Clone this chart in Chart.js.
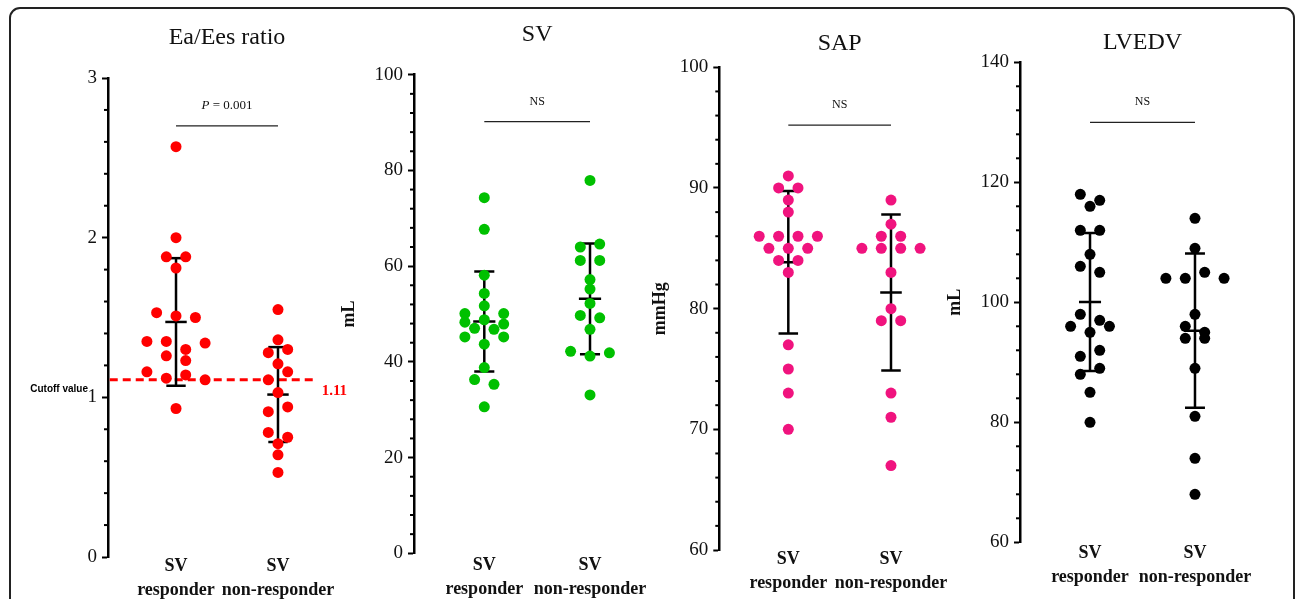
<!DOCTYPE html>
<html>
<head>
<meta charset="utf-8">
<title>SV responders vs non-responders</title>
<script src="https://cdn.jsdelivr.net/npm/chart.js@4.4.1/dist/chart.umd.min.js"></script>
<style>
    html, body { margin: 0; padding: 0; background: #fff; }
    body { position: relative; width: 1296px; height: 599px; overflow: hidden; }
    .frame {
        position: absolute; left: 9px; top: 7px; width: 1286px; height: 700px;
        border: 2px solid #222; border-radius: 11px; box-sizing: border-box;
    }
    canvas { position: absolute; top: 0; }
</style>
</head>
<body>
<div class="frame"></div>
<div id="panels"></div>

<script>
// x axis groups
const groupLabels = [['SV', 'responder'], ['SV', 'non-responder']];
const panelTitles = ['Ea/Ees ratio', 'SV', 'SAP', 'LVEDV'];
const unitLabels = ['', 'mL', 'mmHg', 'mL'];
const compareLabels = ['P = 0.001', 'NS', 'NS', 'NS'];
const compareLevels = [2.7, 90.2, 95.2, 130];

// y axes: min, max, labelled step, minor step
const eaAxis = [0, 3, 1, 0.2];
const svAxis = [0, 100, 20, 4];
const sapAxis = [60, 100, 10, 2];
const lvedvAxis = [60, 140, 20, 4];

const cutoffValue = 1.11;
const cutoffLabel = 'Cutoff value';

// individual patients
const eaResponder = [2.57, 2.00, 1.88, 1.88, 1.81, 1.51, 1.53, 1.50, 1.35, 1.30, 1.35, 1.34, 1.26, 1.23, 1.12, 1.14, 1.16, 1.11, 0.93];
const eaNonResponder = [1.55, 1.36, 1.28, 1.30, 1.21, 1.11, 1.16, 1.03, 0.91, 0.94, 0.78, 0.75, 0.71, 0.64, 0.53];
const svResponder = [74.3, 67.7, 58.1, 54.3, 51.7, 50.1, 50.1, 48.8, 48.3, 47.9, 47.0, 46.8, 43.7, 45.2, 45.2, 38.8, 36.3, 35.3, 30.6];
const svNonResponder = [77.9, 64.0, 64.6, 61.2, 61.2, 57.2, 55.2, 52.2, 49.7, 49.2, 46.8, 41.2, 42.2, 41.9, 33.1];
const sapResponder = [91, 90, 90, 89, 88, 86, 86, 86, 86, 85, 85, 85, 84, 84, 83, 77, 75, 73, 70];
const sapNonResponder = [89, 87, 86, 86, 85, 85, 85, 85, 83, 80, 79, 79, 73, 71, 67];
const lvedvResponder = [118, 117, 116, 112, 112, 108, 106, 105, 98, 97, 95, 96, 96, 91, 92, 88, 89, 85, 80];
const lvedvNonResponder = [114, 109, 104, 105, 104, 104, 98, 96, 95, 94, 94, 89, 81, 74, 68];

const SERIF = '"Liberation Serif", "Times New Roman", serif';
const CANVAS_H = 599;
const DOT_STEP = 9.7;   // half the gap between dots sharing a row (px)
const ROW_GAP = 8.3;    // dots closer than this vertically share a row (px)

const panels = [
    { title: panelTitles[0], unit: unitLabels[0], axis: eaAxis, groups: [eaResponder, eaNonResponder],
      color: '#ff0000', compare: compareLabels[0], level: compareLevels[0], cutoff: cutoffValue,
      left: 10, width: 350, yWidth: 98, padRight: 14, xMin: -0.667, xMax: 1.667,
      titlePad: { top: 23.6, bottom: 25.6 }, xHeight: 42, labelPad: -3, unitPad: 0 },
    { title: panelTitles[1], unit: unitLabels[1], axis: svAxis, groups: [svResponder, svNonResponder],
      color: '#00c000', compare: compareLabels[1], level: compareLevels[1],
      left: 330, width: 340, yWidth: 84, padRight: 9.7, xMin: -0.665, xMax: 1.665,
      titlePad: { top: 20.1, bottom: 25.8 }, xHeight: 45.7, labelPad: 0.5, unitPad: 8.2 },
    { title: panelTitles[2], unit: unitLabels[2], axis: sapAxis, groups: [sapResponder, sapNonResponder],
      color: '#f0137e', compare: compareLabels[2], level: compareLevels[2],
      left: 640, width: 330, yWidth: 79.3, padRight: 10, xMin: -0.672, xMax: 1.672,
      titlePad: { top: 29.6, bottom: 8.9 }, xHeight: 49, labelPad: -3, unitPad: 9.2 },
    { title: panelTitles[3], unit: unitLabels[3], axis: lvedvAxis, groups: [lvedvResponder, lvedvNonResponder],
      color: '#000000', compare: compareLabels[3], level: compareLevels[3],
      left: 940, width: 345, yWidth: 80, padRight: 20, xMin: -0.667, xMax: 1.667,
      titlePad: { top: 28.6, bottom: 4.9 }, xHeight: 56.7, labelPad: -0.5, unitPad: 4.2 }
];

function stats(values) {
    const mean = values.reduce((a, b) => a + b, 0) / values.length;
    const sd = Math.sqrt(values.reduce((a, b) => a + (b - mean) ** 2, 0) / (values.length - 1));
    return { mean, sd };
}

// slot order inside a row: centre first, then alternate left / right
function slotOrder(n) {
    const slots = [];
    if (n % 2) {
        slots.push(0);
        for (let k = 1; slots.length < n; k++) slots.push(-2 * k, 2 * k);
    } else {
        for (let k = 1; slots.length < n; k += 2) slots.push(-k, k);
    }
    return slots.slice(0, n);
}

// spread dots of similar value sideways so they do not overlap
function swarm(values, center, chart) {
    const xs = chart.scales.x, ys = chart.scales.y;
    const unitPx = xs.getPixelForValue(1) - xs.getPixelForValue(0);
    const rows = [];
    values.forEach(v => {
        const row = rows[rows.length - 1];
        if (row && Math.abs(ys.getPixelForValue(v) - ys.getPixelForValue(row[0])) < ROW_GAP) row.push(v);
        else rows.push([v]);
    });
    const pts = [];
    rows.forEach(row => {
        const slots = slotOrder(row.length);
        row.forEach((v, k) => pts.push({ x: center + slots[k] * DOT_STEP / unitPx, y: v }));
    });
    return pts;
}

function segment(x0, y0, x1, y1, width, color, dash) {
    return {
        data: [{ x: x0, y: y0 }, { x: x1, y: y1 }],
        showLine: true, borderColor: color, borderWidth: width, borderDash: dash || [],
        pointRadius: 0, pointHoverRadius: 0, order: 2
    };
}

function errorBars(values, center) {
    const { mean, sd } = stats(values);
    return [
        segment(center, mean - sd, center, mean + sd, 2.5, '#000'),
        segment(center - 0.095, mean + sd, center + 0.095, mean + sd, 2.5, '#000'),
        segment(center - 0.105, mean, center + 0.105, mean, 2.5, '#000'),
        segment(center - 0.095, mean - sd, center + 0.095, mean - sd, 2.5, '#000')
    ];
}

// minor ticks, comparison label and cut-off annotation
const panelDecor = {
    id: 'panelDecor',
    afterDraw(chart, args, opts) {
        const { ctx, chartArea } = chart;
        const xs = chart.scales.x, ys = chart.scales.y;
        const [lo, hi, major, minor] = opts.axis;
        ctx.save();
        ctx.strokeStyle = '#000';
        ctx.lineWidth = 2;
        const n = Math.round((hi - lo) / minor);
        for (let i = 0; i <= n; i++) {
            const v = lo + i * minor;
            const r = (v - lo) / major;
            if (Math.abs(r - Math.round(r)) < 1e-6) continue;
            const py = ys.getPixelForValue(v);
            ctx.beginPath();
            ctx.moveTo(chartArea.left - 4, py);
            ctx.lineTo(chartArea.left, py);
            ctx.stroke();
        }

        const cx = xs.getPixelForValue(0.5);
        const cy = ys.getPixelForValue(opts.level) - 20;
        ctx.fillStyle = '#111';
        ctx.textBaseline = 'middle';
        const m = /^P(\s.*)$/.exec(opts.compare);
        if (m) {
            ctx.font = 'italic 13px ' + SERIF;
            const w1 = ctx.measureText('P').width;
            ctx.font = '13px ' + SERIF;
            const w2 = ctx.measureText(m[1]).width;
            const x0 = cx - (w1 + w2) / 2;
            ctx.textAlign = 'left';
            ctx.font = 'italic 13px ' + SERIF;
            ctx.fillText('P', x0, cy);
            ctx.font = '13px ' + SERIF;
            ctx.fillText(m[1], x0 + w1, cy);
        } else {
            ctx.textAlign = 'center';
            ctx.font = '12px ' + SERIF;
            ctx.fillText(opts.compare, cx, cy);
        }

        if (opts.cutoff != null) {
            const py = ys.getPixelForValue(opts.cutoff);
            ctx.fillStyle = '#ff0000';
            ctx.textAlign = 'left';
            ctx.font = 'bold 15px ' + SERIF;
            ctx.fillText(opts.cutoff.toFixed(2), xs.getPixelForValue(1.35) + 8, py + 11);
            ctx.fillStyle = '#000';
            ctx.textAlign = 'right';
            ctx.font = 'bold 10px "Liberation Sans", Arial, sans-serif';
            ctx.fillText(cutoffLabel, chartArea.left - 20, ys.getPixelForValue(Math.floor(opts.cutoff)) - 8);
        }
        ctx.restore();
    }
};

const holder = document.getElementById('panels');

panels.forEach(p => {
    const canvas = document.createElement('canvas');
    canvas.width = p.width;
    canvas.height = CANVAS_H;
    canvas.style.left = p.left + 'px';
    holder.appendChild(canvas);

    const [yMin, yMax, yStep] = p.axis;
    const datasets = [
        { data: p.groups[0].map(v => ({ x: 0, y: v })), backgroundColor: p.color, pointRadius: 5.5, pointBorderWidth: 0, order: 0 },
        { data: p.groups[1].map(v => ({ x: 1, y: v })), backgroundColor: p.color, pointRadius: 5.5, pointBorderWidth: 0, order: 0 },
        ...errorBars(p.groups[0], 0),
        ...errorBars(p.groups[1], 1),
        segment(0, p.level, 1, p.level, 1.2, '#222')
    ];
    if (p.cutoff != null) {
        const cut = segment(-0.65, p.cutoff, 1.35, p.cutoff, 3, '#ff0000', [8, 5]);
        cut.order = 3;
        datasets.push(cut);
    }

    const chart = new Chart(canvas, {
        type: 'scatter',
        data: { datasets },
        options: {
            responsive: false,
            animation: false,
            events: [],
            layout: { padding: { left: 0, right: p.padRight, top: 0, bottom: 0 } },
            plugins: {
                legend: { display: false },
                tooltip: { enabled: false },
                title: {
                    display: true, text: p.title, fullSize: false, color: '#111',
                    font: { family: SERIF, size: 24, weight: 'normal', lineHeight: 1.2 },
                    padding: p.titlePad
                },
                panelDecor: { axis: p.axis, compare: p.compare, level: p.level, cutoff: p.cutoff }
            },
            scales: {
                x: {
                    type: 'linear', min: p.xMin, max: p.xMax,
                    grid: { display: false, drawTicks: false },
                    border: { display: false },
                    afterBuildTicks: axis => { axis.ticks = [{ value: 0 }, { value: 1 }]; },
                    afterFit: axis => { axis.height = p.xHeight; },
                    ticks: {
                        autoSkip: false, maxRotation: 0, padding: p.labelPad, color: '#111',
                        font: { family: SERIF, size: 18, weight: 'bold', lineHeight: 1.33 },
                        callback: v => groupLabels[v] || ''
                    }
                },
                y: {
                    min: yMin, max: yMax,
                    afterFit: axis => { axis.width = p.yWidth; },
                    grid: { drawOnChartArea: false, drawTicks: true, tickLength: 6, tickWidth: 2, tickColor: '#000' },
                    border: { display: true, color: '#000', width: 2.5 },
                    ticks: {
                        stepSize: yStep, padding: 5, color: '#111',
                        font: { family: SERIF, size: 19 }
                    },
                    title: {
                        display: !!p.unit, text: p.unit, color: '#111',
                        font: { family: SERIF, size: 18, weight: 'bold', lineHeight: 1.2 },
                        padding: { top: p.unitPad, bottom: 0 }
                    }
                }
            }
        },
        plugins: [panelDecor]
    });

    chart.data.datasets[0].data = swarm(p.groups[0], 0, chart);
    chart.data.datasets[1].data = swarm(p.groups[1], 1, chart);
    chart.update('none');
});
</script>
</body>
</html>
